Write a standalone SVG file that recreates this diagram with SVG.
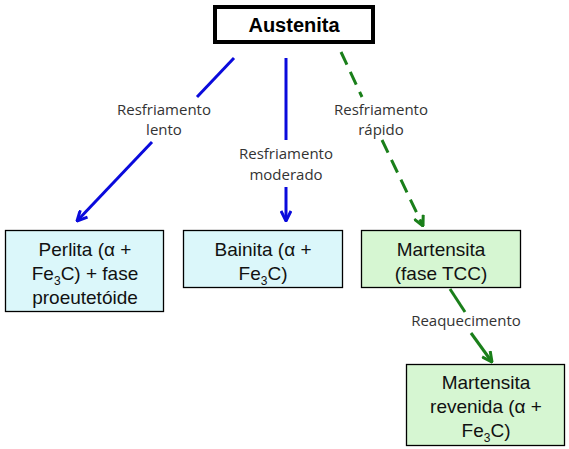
<svg xmlns="http://www.w3.org/2000/svg" width="569" height="449" viewBox="0 0 569 449">
<defs>
<marker id="ab" viewBox="0 0 12 12" refX="11" refY="6" markerWidth="12" markerHeight="12" markerUnits="userSpaceOnUse" orient="auto">
<path d="M1,1 L11,6 L1,11" fill="none" stroke="#0a0adc" stroke-width="3"/>
</marker>
<marker id="ag" viewBox="0 0 12 12" refX="11" refY="6" markerWidth="12" markerHeight="12" markerUnits="userSpaceOnUse" orient="auto">
<path d="M1,1 L11,6 L1,11" fill="none" stroke="#1a7f1a" stroke-width="3"/>
</marker>
</defs>
<style>
.box{stroke:#000;stroke-width:1.3}
.blue{fill:#dbf7fa}
.green{fill:#d6f6d2}
.t{font-family:"Liberation Sans",Arial,sans-serif;font-size:19px;fill:#111;text-anchor:middle}
.lbl{font-family:"Open Sans","Noto Sans",sans-serif;font-size:15px;fill:#333;text-anchor:middle}
.lb{stroke:#0a0adc;stroke-width:3;fill:none}
.lg{stroke:#1a7f1a;stroke-width:3;fill:none}
</style>
<rect width="569" height="449" fill="#fff"/>
<g id="connectors">
<line class="lb" x1="234" y1="58" x2="197" y2="97"/>
<line class="lb" x1="152" y1="142" x2="77" y2="221" marker-end="url(#ab)"/>
<line class="lb" x1="286" y1="58" x2="286" y2="140"/>
<line class="lb" x1="286" y1="187" x2="286" y2="221" marker-end="url(#ab)"/>
<line class="lg" x1="341" y1="52" x2="362" y2="97" stroke-dasharray="14,8"/>
<line class="lg" x1="382" y1="140" x2="423" y2="226" stroke-dasharray="14,8" marker-end="url(#ag)"/>
<line class="lg" x1="450" y1="289" x2="465" y2="312"/>
<line class="lg" x1="471" y1="333" x2="492" y2="362" marker-end="url(#ag)"/>
<text class="lbl" x="164" y="115">Resfriamento</text>
<text class="lbl" x="164" y="135">lento</text>
<text class="lbl" x="286" y="159">Resfriamento</text>
<text class="lbl" x="286" y="180">moderado</text>
<text class="lbl" x="381" y="115">Resfriamento</text>
<text class="lbl" x="381" y="135">rápido</text>
<text class="lbl" x="466" y="326">Reaquecimento</text>
</g>
<g id="austenita">
<rect x="215" y="7" width="158" height="35" fill="#fff" stroke="#000" stroke-width="4"/>
<text x="294" y="32" font-family="'Liberation Sans',Arial,sans-serif" font-size="20" font-weight="bold" text-anchor="middle" fill="#000">Austenita</text>
</g>
<g id="perlita">
<rect class="box blue" x="5.5" y="230.5" width="158" height="81"/>
<text class="t" x="85" y="256">Perlita (α +</text>
<text class="t" x="85" y="280">Fe<tspan font-size="12" dy="5">3</tspan><tspan dy="-5">C) + fase</tspan></text>
<text class="t" x="85" y="304">proeutetóide</text>
</g>
<g id="bainita">
<rect class="box blue" x="183.5" y="230.5" width="159" height="57"/>
<text class="t" x="263" y="256">Bainita (α +</text>
<text class="t" x="263" y="280">Fe<tspan font-size="12" dy="5">3</tspan><tspan dy="-5">C)</tspan></text>
</g>
<g id="martensita">
<rect class="box green" x="361.5" y="230.5" width="159" height="57"/>
<text class="t" x="441" y="256">Martensita</text>
<text class="t" x="441" y="280">(fase TCC)</text>
</g>
<g id="revenida">
<rect class="box green" x="406.5" y="364.5" width="158" height="81"/>
<text class="t" x="486" y="389">Martensita</text>
<text class="t" x="486" y="413">revenida (α +</text>
<text class="t" x="486" y="437">Fe<tspan font-size="12" dy="5">3</tspan><tspan dy="-5">C)</tspan></text>
</g>
</svg>
